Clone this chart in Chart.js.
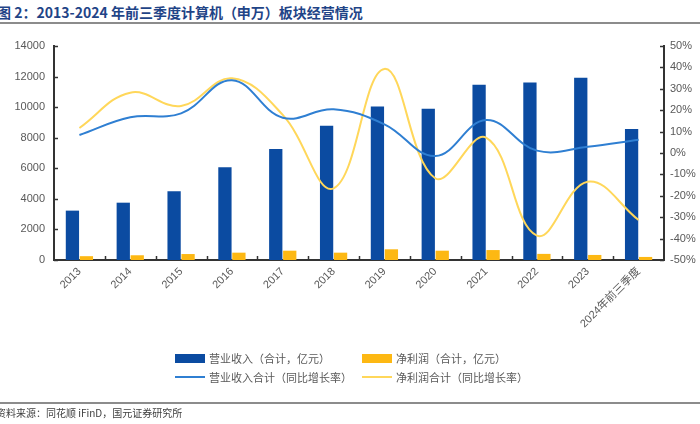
<!DOCTYPE html>
<html>
<head>
<meta charset="utf-8">
<script src="https://cdn.jsdelivr.net/npm/chart.js"></script>
<style>
  body { margin: 0; width: 700px; height: 424px; background: #fff; position: relative; overflow: hidden; font-family: "Noto Sans CJK SC", sans-serif; }
  #title { position: absolute; left: -3px; top: 2px; font-size: 14px; font-weight: bold; color: #1f4487; white-space: nowrap; }
  .rule { position: absolute; left: 0; width: 700px; height: 2px; background: #8c8c8c; }
  #chart-wrap { position: absolute; left: 0; top: 0; width: 700px; height: 424px; }
  #legend { position: absolute; left: 175px; top: 350px; width: 400px; font-size: 11px; color: #595959; }
  .item { position: absolute; height: 16px; line-height: 16px; white-space: nowrap; }
  .swatch { position: absolute; left: 0; width: 30px; }
  .item span { position: absolute; left: 34px; }
  #source { position: absolute; left: -4px; top: 405px; font-size: 10px; color: #404040; white-space: nowrap; }
</style>
</head>
<body>
<div id="title">图 2：2013-2024 年前三季度计算机（申万）板块经营情况</div>
<div class="rule" style="top:22px"></div>
<div id="chart-wrap"><canvas id="chart"></canvas></div>
<div id="legend"></div>
<div class="rule" style="top:402px"></div>
<div id="source">资料来源：同花顺 iFinD，国元证券研究所</div>
<script>
// categories and series
const years = ['2013', '2014', '2015', '2016', '2017', '2018', '2019', '2020', '2021', '2022', '2023', '2024年前三季度'];
const revenue = [3230, 3750, 4490, 6060, 7260, 8790, 10050, 9900, 11470, 11620, 11930, 8570];
const netProfit = [250, 310, 390, 480, 610, 480, 700, 610, 650, 400, 330, 200];
const revenueGrowth = [8.4, 16.7, 18.5, 34.0, 16.5, 20.4, 13.4, -1.4, 15.4, 1.1, 2.9, 6.2];
const profitGrowth = [11.7, 28.2, 22.0, 34.9, 17.8, -16.5, 39.3, -11.8, 7.2, -38.6, -13.4, -31.3];

const leftTicks = [0, 2000, 4000, 6000, 8000, 10000, 12000, 14000];
const rightTicks = [-50, -40, -30, -20, -10, 0, 10, 20, 30, 40, 50];

const BLUE_BAR = '#0b4ba1';
const YELLOW_BAR = '#fdb813';
const BLUE_LINE = '#2f7fd2';
const YELLOW_LINE = '#ffd75a';
const AXIS = '#333333';
const TICK_COLOR = '#595959';

// short tick marks pointing into the plot, like the original
const innerTicks = {
    id: 'innerTicks',
    afterDraw(chart) {
        const ctx = chart.ctx;
        const { left, right, bottom } = chart.chartArea;
        ctx.save();
        ctx.strokeStyle = AXIS;
        ctx.lineWidth = 1.5;
        const yL = chart.scales.y;
        yL.ticks.forEach(t => {
            const py = Math.round(yL.getPixelForValue(t.value)) + 0.5;
            ctx.beginPath(); ctx.moveTo(left, py); ctx.lineTo(left + 4, py); ctx.stroke();
        });
        const yR = chart.scales.y1;
        yR.ticks.forEach(t => {
            const py = Math.round(yR.getPixelForValue(t.value)) + 0.5;
            ctx.beginPath(); ctx.moveTo(right, py); ctx.lineTo(right - 4, py); ctx.stroke();
        });
        const x = chart.scales.x;
        const step = (right - left) / years.length;
        for (let i = 1; i < years.length; i++) {
            const px = Math.round(left + i * step) + 0.5;
            ctx.beginPath(); ctx.moveTo(px, bottom); ctx.lineTo(px, bottom - 4); ctx.stroke();
        }
        ctx.restore();
    }
};

const tickFont = { family: 'Arial, "Liberation Sans", "Noto Sans CJK SC"', size: 11 };

const chart = new Chart(document.getElementById('chart'), {
    data: {
        labels: years,
        datasets: [
            { type: 'line', label: '营业收入合计（同比增长率）', data: revenueGrowth, yAxisID: 'y1',
              borderColor: BLUE_LINE, borderWidth: 2, tension: 0.4, pointRadius: 0, fill: false, order: 0 },
            { type: 'line', label: '净利润合计（同比增长率）', data: profitGrowth, yAxisID: 'y1',
              borderColor: YELLOW_LINE, borderWidth: 2, tension: 0.4, pointRadius: 0, fill: false, order: 0 },
            { type: 'bar', label: '营业收入（合计，亿元）', data: revenue, yAxisID: 'y',
              backgroundColor: BLUE_BAR, barPercentage: 0.95, categoryPercentage: 0.55, order: 1 },
            { type: 'bar', label: '净利润（合计，亿元）', data: netProfit, yAxisID: 'y',
              backgroundColor: YELLOW_BAR, barPercentage: 0.95, categoryPercentage: 0.55, order: 1 }
        ]
    },
    options: {
        responsive: true,
        maintainAspectRatio: false,
        animation: false,
        layout: { padding: { left: 0, right: 0, top: 46, bottom: 0 } },
        plugins: { legend: { display: false }, tooltip: { enabled: false } },
        scales: {
            x: {
                grid: { display: false, drawTicks: false },
                border: { color: AXIS, width: 2 },
                ticks: { color: TICK_COLOR, font: tickFont, minRotation: 45, maxRotation: 45, padding: 5, autoSkip: false },
                afterFit(scale) { scale.height = 164; }
            },
            y: {
                position: 'left', min: 0, max: 14000,
                grid: { display: false, drawTicks: false },
                border: { color: AXIS, width: 2 },
                ticks: { color: TICK_COLOR, font: tickFont, padding: 9, stepSize: 2000,
                         callback: v => leftTicks.includes(v) ? String(v) : '' },
                afterFit(scale) { scale.width = 54; }
            },
            y1: {
                position: 'right', min: -50, max: 50,
                grid: { display: false, drawTicks: false },
                border: { color: AXIS, width: 2 },
                ticks: { color: TICK_COLOR, font: tickFont, padding: 6, stepSize: 10,
                         callback: v => rightTicks.includes(v) ? v + '%' : '' },
                afterFit(scale) { scale.width = 36; }
            }
        }
    },
    plugins: [innerTicks]
});

// legend laid out in two columns like the original
const legend = document.getElementById('legend');
const slots = [
    { ds: 2, left: 0, top: 0, bar: true },
    { ds: 3, left: 187, top: 0, bar: true },
    { ds: 0, left: 0, top: 19, bar: false },
    { ds: 1, left: 187, top: 19, bar: false }
];
slots.forEach(s => {
    const d = chart.data.datasets[s.ds];
    const item = document.createElement('div');
    item.className = 'item';
    item.style.left = s.left + 'px';
    item.style.top = s.top + 'px';
    const sw = document.createElement('div');
    sw.className = 'swatch';
    if (s.bar) { sw.style.top = '4px'; sw.style.height = '9px'; sw.style.background = d.backgroundColor; }
    else { sw.style.top = '7px'; sw.style.height = '2px'; sw.style.background = d.borderColor; }
    const txt = document.createElement('span');
    txt.textContent = d.label;
    item.appendChild(sw);
    item.appendChild(txt);
    legend.appendChild(item);
});
</script>
</body>
</html>
